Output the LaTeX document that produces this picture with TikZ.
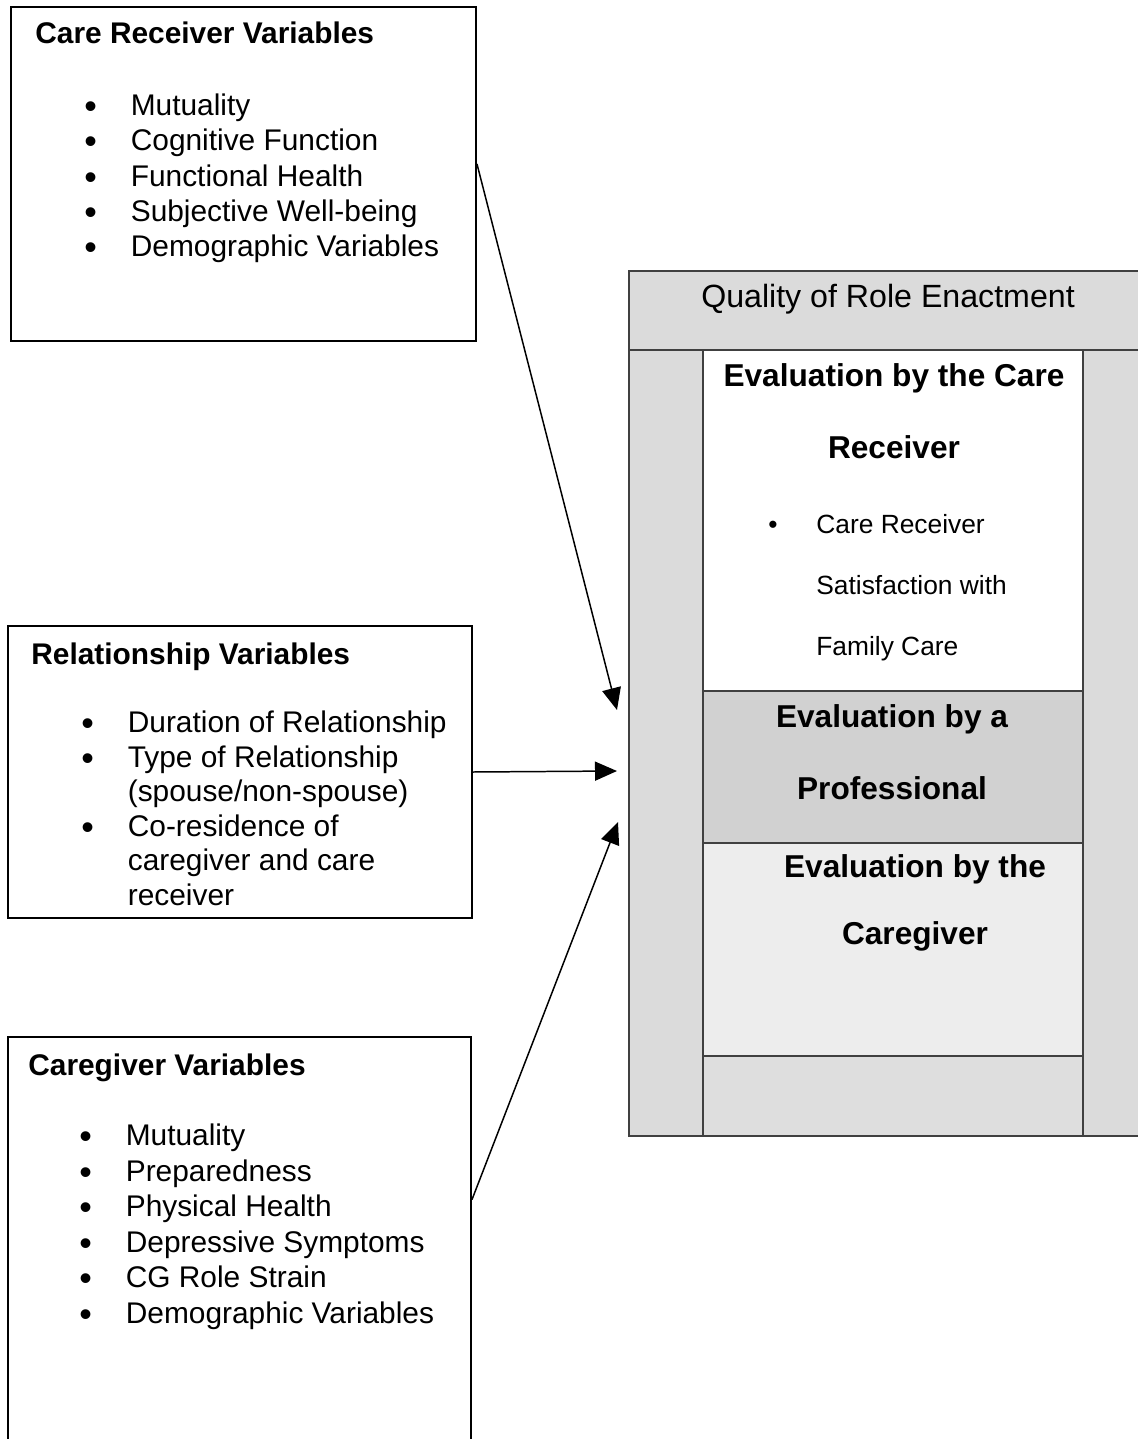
\documentclass[tikz,border=0pt]{standalone}
\usepackage{fontspec}
\setmainfont{Liberation Sans}
\usetikzlibrary{positioning, fit, calc, arrows.meta}

\newcommand{\itm}{\makebox[0.93cm][l]{\raisebox{-0.1em}{\scalebox{1.2}{\textbullet}}}}
\newcommand{\itmgap}{\hspace*{0.93cm}}

\begin{document}
\begin{tikzpicture}[x=0.02cm, y=-0.02cm]
        % Setup the styles for the boxes and the text
        \tikzset{var box/.style={draw=black, line width=1.1pt, inner sep=0pt},
                 panel box/.style={draw=black!75, line width=0.7pt, inner sep=0pt},
                 head text/.style={font=\bfseries\fontsize{17}{20}\selectfont,
                                   anchor=base west, inner sep=0pt},
                 list text/.style={font=\fontsize{17}{20.2}\selectfont,
                                   align=left, anchor=base west, inner sep=0pt},
                 eval text/.style={font=\bfseries\fontsize{18}{41}\selectfont,
                                   align=center, inner sep=0pt},
                 arrow line/.style={line width=0.85pt,
                                    -{Triangle[length=0.44cm, width=0.38cm]}}}

        \clip (0,0) rectangle (1138,1439);

        % Draw the variable boxes
        \node[var box, fit={(11,7) (476,341)}]      (crbox)  {};
        \node[var box, fit={(8,626) (472,918)}]     (relbox) {};
        \node[var box, fit={(8,1037) (471,1460)}]   (cgbox)  {};

        % (lists are placed by the baseline of their last line)
        \node[head text] at (35,44)  (crhead)  {Care Receiver Variables};
        \node[list text] at (84,257) (crlist)  {\itm Mutuality\\
                                                \itm Cognitive Function\\
                                                \itm Functional Health\\
                                                \itm Subjective Well-being\\
                                                \itm Demographic Variables};

        \node[head text] at (31,664)  (relhead) {Relationship Variables};
        \node[list text, font=\fontsize{17}{19.6}\selectfont]
              at (81,905) (rellist) {\itm Duration of Relationship\\
                                     \itm Type of Relationship\\
                                     \itmgap (spouse/non-spouse)\\
                                     \itm Co-residence of\\
                                     \itmgap caregiver and care\\
                                     \itmgap receiver};

        \node[head text] at (28,1075)  (cghead) {Caregiver Variables};
        \node[list text] at (79,1323)  (cglist) {\itm Mutuality\\
                                                 \itm Preparedness\\
                                                 \itm Physical Health\\
                                                 \itm Depressive Symptoms\\
                                                 \itm CG Role Strain\\
                                                 \itm Demographic Variables};

        % Draw the outcome panel
        \node[panel box, fill=black!14, fit={(629,271) (1160,1136)}]  (quality)  {};
        \node[panel box, fill=black!14, fit={(629,271) (1160,350)}]   (qhead)    {};
        \node[panel box, fill=white,    fit={(703,350) (1083,691)}]   (crbyeval) {};
        \node[panel box, fill=black!18, fit={(703,691) (1083,843)}]   (proeval)  {};
        \node[panel box, fill=black!7,  fit={(703,843) (1083,1056)}]  (cgeval)   {};
        \node[panel box, fill=black!13, fit={(703,1056) (1083,1136)}] (blankrow) {};

        \node[font=\fontsize{18.3}{20}\selectfont, inner sep=0pt] at (888,299) (qtitle)
              {Quality of Role Enactment};
        \node[eval text] at (894,411) (crtitle) {Evaluation by the Care\\Receiver};
        \node[font=\fontsize{15}{34.7}\selectfont, align=left, anchor=base west, inner sep=0pt]
              at (768,655) (satlist) {\makebox[0.96cm][l]{\textbullet}Care Receiver\\
                                      \hspace*{0.96cm}Satisfaction with\\
                                      \hspace*{0.96cm}Family Care};
        \node[eval text] at (892,752) (protitle) {Evaluation by a\\Professional};
        \node[eval text, font=\bfseries\fontsize{18}{38}\selectfont]
              at (915,903) (cgtitle) {Evaluation by the\\Caregiver};

        % Connect the boxes with arrows
        \coordinate (out1) at ($(crbox.north east)!0.47!(crbox.south east)$);
        \coordinate (out3) at ($(cgbox.north east)!0.385!(cgbox.south east)$);
        \coordinate (in1) at (617,710);
        \coordinate (in2) at (617,771);
        \coordinate (in3) at (618,822);

        \draw[arrow line] (out1)       -- (in1);
        \draw[arrow line] (relbox.east) -- (in2);
        \draw[arrow line] (out3)       -- (in3);
\end{tikzpicture}
\end{document}
